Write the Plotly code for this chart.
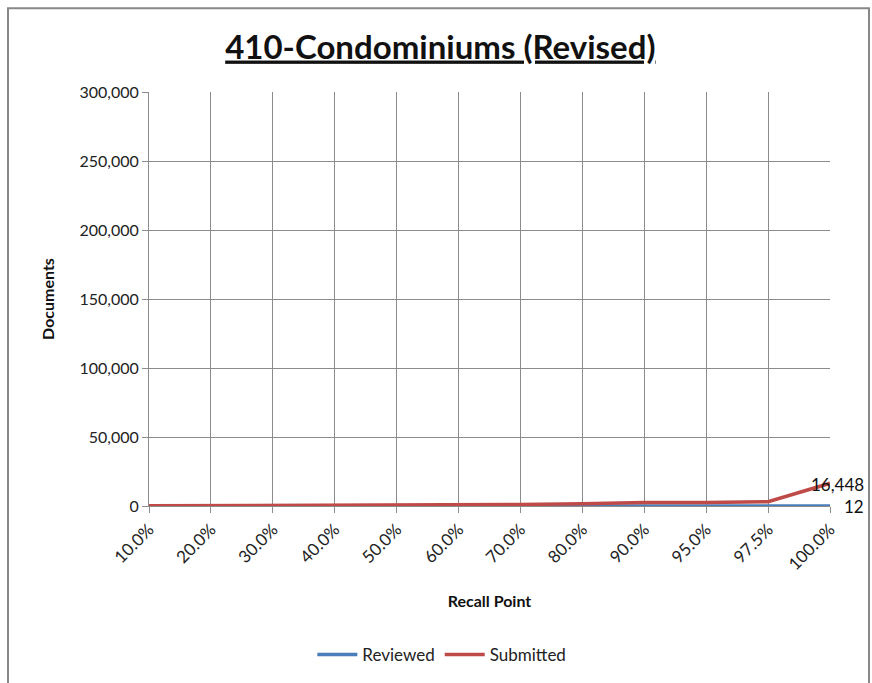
import plotly.graph_objects as go

recall_points = ["10.0%", "20.0%", "30.0%", "40.0%", "50.0%", "60.0%",
                 "70.0%", "80.0%", "90.0%", "95.0%", "97.5%", "100.0%"]
reviewed = [1, 1, 2, 3, 4, 5, 6, 7, 8, 9, 10, 12]
submitted = [150, 250, 450, 900, 1000, 1050, 1100, 1700, 2500, 2600, 3100, 16448]

y_ticks = [0, 50000, 100000, 150000, 200000, 250000, 300000]
y_tick_text = ["0", "50,000", "100,000", "150,000", "200,000", "250,000", "300,000"]

FONT = "Lato, 'Open Sans', sans-serif"
BLUE = "#4a7ebb"
RED = "#be4b48"

fig = go.Figure()
fig.add_trace(go.Scatter(
    x=recall_points, y=reviewed, name="Reviewed", mode="lines",
    line=dict(color=BLUE, width=3.5),
))
fig.add_trace(go.Scatter(
    x=recall_points, y=submitted, name="Submitted", mode="lines",
    line=dict(color=RED, width=3.5),
))

# value labels on the final recall point
fig.add_annotation(x=recall_points[-1], y=submitted[-1], xref="x", yref="y",
                   text=f"{submitted[-1]:,}", showarrow=False,
                   xanchor="center", yanchor="middle", xshift=7, yshift=-1,
                   font=dict(family=FONT, size=17, color="#111111"))
fig.add_annotation(x=recall_points[-1], y=reviewed[-1], xref="x", yref="y",
                   text=f"{reviewed[-1]:,}", showarrow=False,
                   xanchor="left", yanchor="middle", xshift=12, yshift=-1,
                   font=dict(family=FONT, size=17, color="#111111"))

fig.update_layout(
    width=872, height=683,
    margin=dict(l=149, r=42, t=92, b=176),
    paper_bgcolor="white", plot_bgcolor="white",
    font=dict(family=FONT, size=16, color="#222222"),
    title=dict(
        text="<b><u>410-Condominiums (Revised)</u></b>",
        x=0.505, xref="container", xanchor="center",
        y=1 - 47 / 683, yref="container", yanchor="middle",
        font=dict(family=FONT, size=33, color="#111111"),
    ),
    xaxis=dict(
        type="category", range=[0, len(recall_points) - 1],
        showgrid=True, gridcolor="#8c8c8c", gridwidth=1,
        showline=True, linecolor="#8c8c8c",
        ticks="outside", ticklen=6, tickcolor="#8c8c8c",
        tickangle=-45, tickfont=dict(size=17, color="#222222"),
        title=dict(text="<b>Recall Point</b>", font=dict(size=16, color="#111111"), standoff=22),
    ),
    yaxis=dict(
        range=[0, 300000], tickvals=y_ticks, ticktext=y_tick_text,
        showgrid=True, gridcolor="#8c8c8c", gridwidth=1,
        showline=True, linecolor="#8c8c8c", zeroline=False,
        ticks="outside", ticklen=6, tickcolor="#8c8c8c",
        tickfont=dict(size=16, color="#222222"),
        title=dict(text="<b>Documents</b>", font=dict(size=16, color="#111111"), standoff=20),
    ),
    legend=dict(
        orientation="h", x=0.43, xanchor="center",
        y=-148 / 415, yanchor="middle",
        font=dict(size=17, color="#222222"),
        itemwidth=40, tracegroupgap=0,
    ),
    showlegend=True,
)

# outer chart border
fig.add_shape(type="rect", xref="paper", yref="paper",
              x0=(8 - 149) / 681, x1=(869 - 149) / 681,
              y0=(507 - 700) / 415, y1=(507 - 8) / 415,
              line=dict(color="#888888", width=2), fillcolor="rgba(0,0,0,0)", layer="below")

fig.write_html("out.html")
